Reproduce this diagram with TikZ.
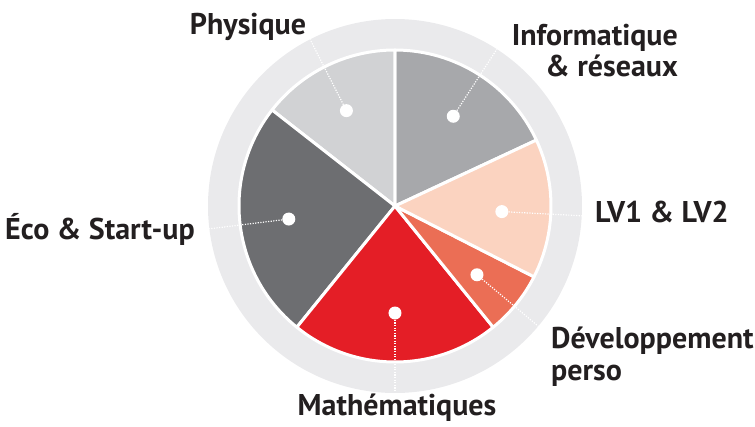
\documentclass[tikz,border=0pt]{standalone}
\usepackage{fontspec}
\setmainfont{PT Sans}
\definecolor{ringgrey}{HTML}{EAEAEC}
\definecolor{physgrey}{HTML}{D1D2D4}
\definecolor{infogrey}{HTML}{A7A8AB}
\definecolor{ecogrey}{HTML}{6D6E71}
\definecolor{mathred}{HTML}{E41E26}
\definecolor{devcoral}{HTML}{EB6E55}
\definecolor{lvpeach}{HTML}{FBD3C0}
\definecolor{labeltext}{HTML}{231F20}
\begin{document}
\begin{tikzpicture}[x=1pt, y=1pt]
    % Define styles for slices, dots and labels
    \tikzstyle{slice} = [draw=white, line width=3pt, line join=round]
    \tikzstyle{dot} = [circle, fill=white, inner sep=0pt, minimum size=13pt]
    \tikzstyle{leader} = [white, line width=1.2pt, dash pattern=on 1.2pt off 1.4pt]
    \tikzstyle{label} = [font=\bfseries\fontsize{30}{32}\selectfont, text=labeltext, inner sep=0pt]
    \useasboundingbox (-395,-220) rectangle (360,206);
    % Outer ring
    \fill[ringgrey] (0,0) circle (187);
    % Slices
    \foreach \a/\b/\col in {25/90/infogrey, 90/142/physgrey, 142/231/ecogrey,
                            231/309/mathred, 309/333/devcoral, 333/385/lvpeach}
        \filldraw[slice, fill=\col] (0,0) -- (\a:156) arc (\a:\b:156) -- cycle;
    % Dots with dotted leaders
    \foreach \ang/\n in {57/info, 117/phys, 187/eco, 270/math, 320/dev, 357/lv} {
        \coordinate (\n-end) at (\ang:187);
        \node[dot] (\n-dot) at (\ang:107) {};
        \draw[leader] (\n-dot) -- (\n-end);
    }
    % Labels
    \node (phys) [label, anchor=base] at (-147,171) {Physique};
    \node (info) [label, anchor=base east, align=right] at (283,129) {Informatique\\ \& réseaux};
    \node (lv) [label, anchor=base west] at (200,-16) {LV1 \& LV2};
    \node (dev) [label, anchor=base west, align=left] at (156,-174) {Développement\\perso};
    \node (math) [label, anchor=base] at (2,-209) {Mathématiques};
    \node (eco) [label, anchor=base east] at (-200,-33) {Éco \& Start-up};
\end{tikzpicture}
\end{document}
